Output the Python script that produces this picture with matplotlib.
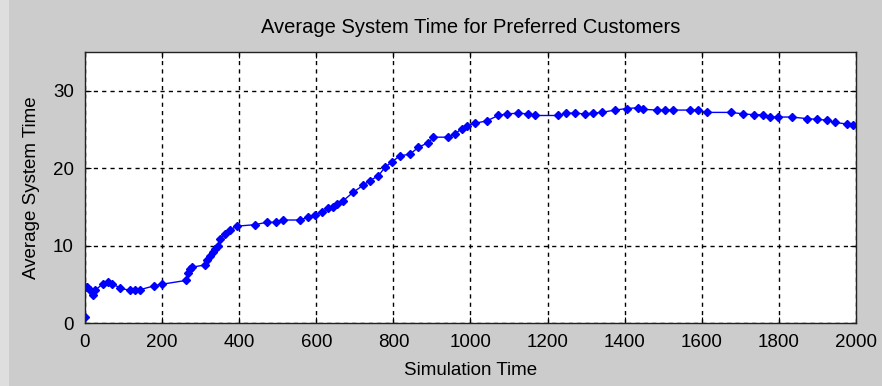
import matplotlib.pyplot as plt
from matplotlib.patches import Rectangle

plt.rcParams['font.family'] = ['Liberation Sans', 'DejaVu Sans']

# Average system time of preferred customers over the simulation run
sim_time = [0, 0, 4, 13, 20, 26, 47, 60, 69, 92, 117, 130, 143, 179, 199,
            262, 268, 272, 277, 311, 316, 324, 333, 337, 346, 350, 363, 376, 393,
            441, 471, 495, 514, 558, 579, 597, 614, 631, 644, 653, 670, 696, 722,
            739, 761, 778, 796, 817, 843, 865, 891, 904, 942, 960, 977, 990,
            1012, 1042, 1072, 1094, 1124, 1150, 1167, 1228, 1249, 1271, 1297,
            1319, 1340, 1375, 1405, 1435, 1448, 1483, 1505, 1526, 1569, 1591,
            1613, 1677, 1708, 1735, 1760, 1777, 1798, 1833, 1872, 1898, 1924,
            1946, 1976, 1993]
avg_time = [0.8, 4.6, 4.7, 4.2, 3.6, 4.2, 5.1, 5.3, 5.1, 4.5, 4.2, 4.2, 4.3, 4.8, 5.0,
            5.5, 6.4, 7.0, 7.2, 7.5, 8.1, 8.7, 9.2, 9.6, 9.9, 10.9, 11.5, 12.0, 12.5,
            12.7, 13.0, 13.0, 13.3, 13.3, 13.7, 13.9, 14.3, 14.8, 15.0, 15.4, 15.8, 16.9, 17.8,
            18.4, 19.0, 20.1, 20.8, 21.6, 21.8, 22.7, 23.3, 24.0, 24.0, 24.4, 25.1, 25.5,
            25.8, 26.1, 26.8, 27.0, 27.1, 27.0, 26.8, 26.8, 27.1, 27.1, 27.0,
            27.1, 27.2, 27.5, 27.7, 27.8, 27.6, 27.5, 27.5, 27.5, 27.5, 27.5,
            27.2, 27.2, 27.0, 26.9, 26.9, 26.6, 26.6, 26.6, 26.4, 26.3, 26.2,
            25.9, 25.7, 25.6]

fig = plt.figure(figsize=(8.82, 3.86), dpi=100, facecolor='#cccccc')
fig.patches.append(Rectangle((0, 0), 9 / 882, 1, transform=fig.transFigure,
                             facecolor='#dedede', edgecolor='none', zorder=-1))
ax = fig.add_axes([85 / 882, 1 - 323 / 386, 771 / 882, 271 / 386])

ax.plot(sim_time, avg_time, color='#0000ff', linewidth=1, marker='D',
        markersize=4.2, markeredgewidth=1)

ax.set_xlim(0, 2000)
ax.set_ylim(0, 35)
ax.set_xticks(range(0, 2001, 200))
ax.set_yticks([0, 10, 20, 30])
ax.grid(True, color='black', linestyle=(0, (3, 3)), linewidth=1)
ax.tick_params(direction='in', top=True, right=True, labelsize=13.5, pad=8,
               length=4, colors='black')
for side in ax.spines.values():
    side.set_linewidth(1)
    side.set_color('#222222')

ax.set_title('Average System Time for Preferred Customers', fontsize=14.5, pad=14)
ax.set_xlabel('Simulation Time', fontsize=13.5, labelpad=8)
ax.set_ylabel('Average System Time', fontsize=13.5, labelpad=9)

fig.savefig('out.png', dpi=100, facecolor=fig.get_facecolor())
